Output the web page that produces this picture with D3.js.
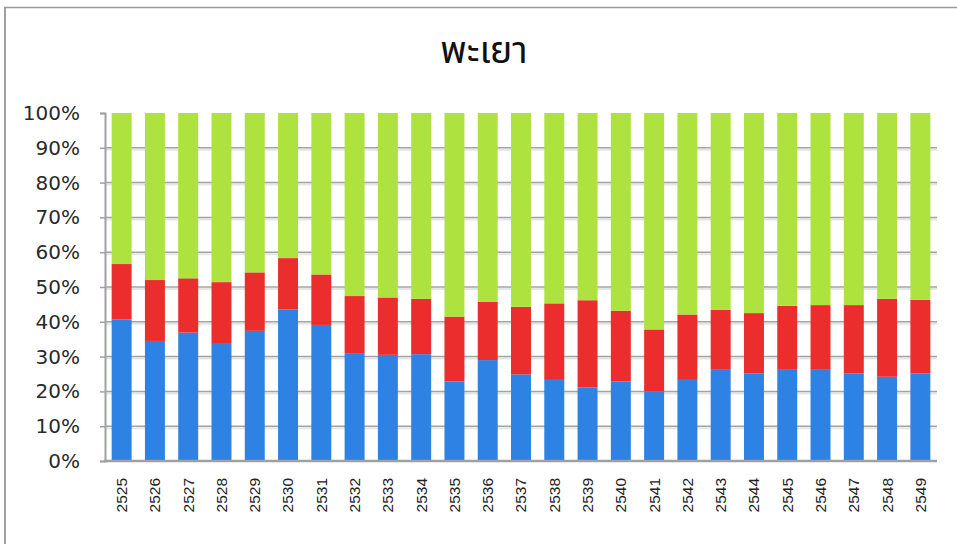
<!DOCTYPE html>
<html>
<head>
<meta charset="utf-8">
<script src="https://cdn.jsdelivr.net/npm/d3@7"></script>
<style>
  body { margin: 0; background: #fff; }
  svg { display: block; }
</style>
</head>
<body>
<svg width="957" height="544"></svg>
<script>
// data (percent of each year)
var years = ["2525","2526","2527","2528","2529","2530","2531","2532","2533","2534","2535","2536","2537",
             "2538","2539","2540","2541","2542","2543","2544","2545","2546","2547","2548","2549"];
var blue  = [40.7, 34.5, 36.9, 33.9, 37.4, 43.6, 39.1, 31.0, 30.5, 30.7, 22.9, 29.0, 24.9,
             23.3, 21.1, 22.9, 20.0, 23.3, 26.4, 25.2, 26.2, 26.2, 25.2, 24.2, 25.2];
var red   = [15.9, 17.5, 15.6, 17.5, 16.8, 14.7, 14.5, 16.4, 16.5, 15.9, 18.6, 16.7, 19.4,
             22.0, 25.1, 20.3, 17.8, 18.8, 17.1, 17.3, 18.4, 18.6, 19.6, 22.4, 21.1];
var green = [43.4, 48.0, 47.5, 48.6, 45.8, 41.7, 46.4, 52.6, 53.0, 53.4, 58.5, 54.3, 55.7,
             54.7, 53.8, 56.8, 62.2, 57.9, 56.5, 57.5, 55.4, 55.2, 55.2, 53.4, 53.7];
var yTicks = [0, 10, 20, 30, 40, 50, 60, 70, 80, 90, 100];
var title = "พะเยา";

var svg = d3.select("svg"),
    plotLeft = 105, plotRight = 937, plotTop = 113, plotBottom = 461;

// outer frame (top and left only)
svg.append("line").attr("x1", 4).attr("x2", 957).attr("y1", 7.5).attr("y2", 7.5)
   .attr("stroke", "#9a9a9a").attr("stroke-width", 1.5);
svg.append("line").attr("x1", 5).attr("x2", 5).attr("y1", 7).attr("y2", 544)
   .attr("stroke", "#a0a0a0").attr("stroke-width", 2);

var x = d3.scaleBand().domain(years).range([plotLeft, plotRight]).paddingInner(0.4).paddingOuter(0.2);
var y = d3.scaleLinear().domain([0, 100]).range([plotBottom, plotTop]);

// gridlines with a light shadow
var grid = svg.append("g");
yTicks.filter(function(d) { return d > 0 && d < 100; }).forEach(function(t) {
  grid.append("line").attr("x1", plotLeft).attr("x2", plotRight)
      .attr("y1", y(t) + 2).attr("y2", y(t) + 2)
      .attr("stroke", "#e6e6e6").attr("stroke-width", 2);
  grid.append("line").attr("x1", plotLeft).attr("x2", plotRight)
      .attr("y1", y(t)).attr("y2", y(t))
      .attr("stroke", "#a4a4a4").attr("stroke-width", 1.5);
});

// stacked bars
var rows = years.map(function(yr, i) { return {year: yr, blue: blue[i], red: red[i], green: green[i]}; });
var stack = d3.stack().keys(["blue", "red", "green"]).offset(d3.stackOffsetExpand)(rows);
var colors = {blue: "#2e82e4", red: "#eb2d2d", green: "#aee33f"};

svg.append("g").selectAll("g").data(stack).join("g")
   .attr("fill", function(d) { return colors[d.key]; })
   .selectAll("rect").data(function(d) { return d; }).join("rect")
   .attr("x", function(d) { return x(d.data.year); })
   .attr("width", x.bandwidth())
   .attr("y", function(d) { return y(d[1] * 100); })
   .attr("height", function(d) { return y(d[0] * 100) - y(d[1] * 100); });

// y axis
var yAxis = svg.append("g").attr("transform", "translate(" + plotLeft + ",0)")
   .call(d3.axisLeft(y).tickValues(yTicks).tickSize(5).tickPadding(20)
         .tickFormat(function(d) { return d + "%"; }));
yAxis.select(".domain").attr("stroke", "#a0a0a0").attr("stroke-width", 2);
yAxis.selectAll(".tick line").attr("stroke", "#a0a0a0").attr("stroke-width", 1.5);
yAxis.selectAll("text").attr("font-family", "DejaVu Sans, Verdana, sans-serif")
     .attr("font-size", 20).attr("fill", "#2a2a2a");

// x axis
svg.append("line").attr("x1", plotLeft - 1).attr("x2", plotRight).attr("y1", plotBottom).attr("y2", plotBottom)
   .attr("stroke", "#a0a0a0").attr("stroke-width", 2.5);
svg.append("g").selectAll("text").data(years).join("text")
   .attr("transform", function(d) { return "translate(" + (x(d) + x.bandwidth() / 2) + ",478) rotate(-90)"; })
   .attr("text-anchor", "end").attr("dy", "0.35em")
   .attr("font-family", "Liberation Sans, Arial, sans-serif").attr("font-size", 15.5)
   .attr("fill", "#222")
   .text(function(d) { return d; });

// title
svg.append("text").attr("x", 484).attr("y", 63).attr("text-anchor", "middle")
   .attr("font-family", "Noto Sans Thai, Tahoma, Noto Sans, sans-serif")
   .attr("font-size", 38).attr("fill", "#111")
   .text(title);
</script>
</body>
</html>
